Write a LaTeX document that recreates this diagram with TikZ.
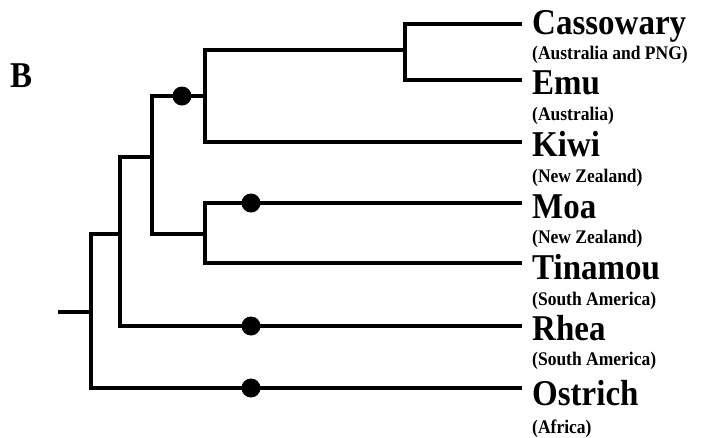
\documentclass[tikz,border=0pt]{standalone}
\usepackage{fontspec}
\setmainfont{Liberation Serif}
\newcommand{\vstretch}[1]{\scalebox{1}[1.1]{#1}}
\begin{document}
\begin{tikzpicture}[x=1pt,y=-1pt,
  branch/.style={line width=4pt,line cap=rect,line join=miter},
  dotmark/.style={circle,fill=black,inner sep=0pt,minimum size=19pt},
  taxon/.style={anchor=base west,inner sep=0pt,font=\bfseries\fontsize{33}{33}\selectfont},
  region/.style={anchor=base west,inner sep=0pt,font=\bfseries\fontsize{17.5}{17.5}\selectfont},
  panel/.style={anchor=base west,inner sep=0pt,font=\bfseries\fontsize{33}{33}\selectfont}]
\useasboundingbox (0,0) rectangle (703,437);
% internal coordinates
\coordinate (r0) at (60,312);
\coordinate (n1) at (91,312);
\coordinate (n2) at (91,234);
\coordinate (n3) at (120,157);
\coordinate (n4) at (152,96);
\coordinate (n5) at (205,50);
\coordinate (n6) at (152,234);
% leaf ends
\coordinate (cas) at (520,24);
\coordinate (emu) at (520,80);
\coordinate (kiw) at (520,142);
\coordinate (moa) at (520,203);
\coordinate (tin) at (520,263);
\coordinate (rhe) at (520,326);
\coordinate (ost) at (520,388);
% tree
\draw[branch] (r0) -- (n1);
\draw[branch] (91,234) |- (ost);
\draw[branch] (n2) -- (120,234) |- (rhe);
\draw[branch] (120,234) |- (n3) -- (152,157);
\draw[branch] (152,96) -- (152,234);
\draw[branch] (n4) -- (205,96);
\draw[branch] (205,142) -- (205,50) -| (405,24);
\draw[branch] (n5) -- (405,50);
\draw[branch] (405,24) -- (405,80) -- (emu);
\draw[branch] (405,24) -- (cas);
\draw[branch] (205,142) -- (kiw);
\draw[branch] (n6) -- (205,234);
\draw[branch] (205,203) -- (205,263) -- (tin);
\draw[branch] (205,203) -- (moa);
% dots
\node[dotmark] (d1) at (182,96) {};
\node[dotmark] (d2) at (251,203) {};
\node[dotmark] (d3) at (251,326) {};
\node[dotmark] (d4) at (251,388) {};
% labels
\node[panel] (lb) at (10,87) {\vstretch{B}};
\node[taxon] (tcas) at (532,34) {\vstretch{Cassowary}};
\node[region] (gcas) at (532,59) {\vstretch{(Australia and PNG)}};
\node[taxon] (temu) at (532,94) {\vstretch{Emu}};
\node[region] (gemu) at (532,120) {\vstretch{(Australia)}};
\node[taxon] (tkiw) at (532,156) {\vstretch{Kiwi}};
\node[region] (gkiw) at (532,182) {\vstretch{(New Zealand)}};
\node[taxon] (tmoa) at (532,218) {\vstretch{Moa}};
\node[region] (gmoa) at (532,243) {\vstretch{(New Zealand)}};
\node[taxon] (ttin) at (532,279) {\vstretch{Tinamou}};
\node[region] (gtin) at (532,305) {\vstretch{(South America)}};
\node[taxon] (trhe) at (532,340) {\vstretch{Rhea}};
\node[region] (grhe) at (532,365) {\vstretch{(South America)}};
\node[taxon] (tost) at (532,405) {\vstretch{Ostrich}};
\node[region] (gost) at (532,433) {\vstretch{(Africa)}};
\end{tikzpicture}
\end{document}
